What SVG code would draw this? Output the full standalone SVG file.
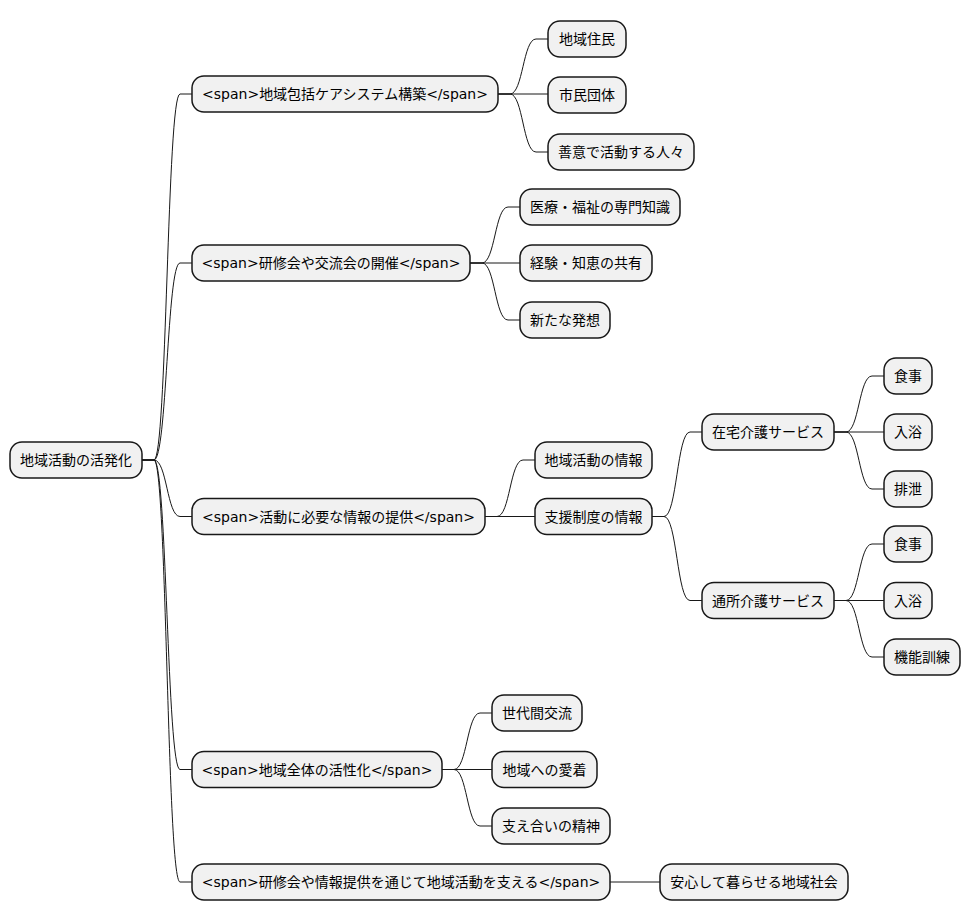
<svg xmlns="http://www.w3.org/2000/svg" width="971" height="921" viewBox="0 0 971 921">
<style>
.n rect{fill:#F1F1F1;stroke:#181818;stroke-width:1.5}
.n text{font-family:"DejaVu Sans","Noto Sans CJK JP",sans-serif;font-size:14px;fill:#000;text-anchor:middle}
#links path{fill:none;stroke:#181818;stroke-width:1}
</style>
<rect width="971" height="921" fill="#FFFFFF"/>
<g id="links">
<path d="M142,460 H154 C167,460 167,94 180,94 H192"/>
<path d="M142,460 H154 C167,460 167,263 180,263 H192"/>
<path d="M142,460 H154 C167,460 167,516.5 180,516.5 H192"/>
<path d="M142,460 H154 C167,460 167,769.5 180,769.5 H192"/>
<path d="M142,460 H154 C167,460 167,882 180,882 H192"/>
<path d="M498,94 H510 C523,94 523,39 536,39 H548"/>
<path d="M498,94 H548"/>
<path d="M498,94 H510 C523,94 523,152 536,152 H548"/>
<path d="M470,263 H482 C495,263 495,207 508,207 H520"/>
<path d="M470,263 H520"/>
<path d="M470,263 H482 C495,263 495,320 508,320 H520"/>
<path d="M485,516.5 H497 C510,516.5 510,460 523,460 H535"/>
<path d="M485,516.5 H535"/>
<path d="M652,516.5 H664 C677,516.5 677,432 690,432 H702"/>
<path d="M652,516.5 H664 C677,516.5 677,600.5 690,600.5 H702"/>
<path d="M834,432 H846 C859,432 859,376 872,376 H884"/>
<path d="M834,432 H884"/>
<path d="M834,432 H846 C859,432 859,489 872,489 H884"/>
<path d="M834,600.5 H846 C859,600.5 859,544 872,544 H884"/>
<path d="M834,600.5 H884"/>
<path d="M834,600.5 H846 C859,600.5 859,657 872,657 H884"/>
<path d="M442,769.5 H454 C467,769.5 467,713 480,713 H492"/>
<path d="M442,769.5 H492"/>
<path d="M442,769.5 H454 C467,769.5 467,826 480,826 H492"/>
<path d="M610,882 H660"/>
</g>
<g id="root" class="n"><rect x="10" y="442" width="132" height="36" rx="12"/><text x="76" y="465">地域活動の活発化</text></g>
<g id="n1" class="n"><rect x="192" y="76" width="306" height="36" rx="12"/><text x="345" y="99">&lt;span&gt;地域包括ケアシステム構築&lt;/span&gt;</text></g>
<g id="n1a" class="n"><rect x="548" y="21" width="78" height="36" rx="12"/><text x="587" y="44">地域住民</text></g>
<g id="n1b" class="n"><rect x="548" y="77" width="78" height="36" rx="12"/><text x="587" y="100">市民団体</text></g>
<g id="n1c" class="n"><rect x="548" y="134" width="146" height="36" rx="12"/><text x="621" y="157">善意で活動する人々</text></g>
<g id="n2" class="n"><rect x="192" y="245" width="278" height="36" rx="12"/><text x="331" y="268">&lt;span&gt;研修会や交流会の開催&lt;/span&gt;</text></g>
<g id="n2a" class="n"><rect x="520" y="189" width="160" height="36" rx="12"/><text x="600" y="212">医療・福祉の専門知識</text></g>
<g id="n2b" class="n"><rect x="520" y="245" width="132" height="36" rx="12"/><text x="586" y="268">経験・知恵の共有</text></g>
<g id="n2c" class="n"><rect x="520" y="302" width="90" height="36" rx="12"/><text x="565" y="325">新たな発想</text></g>
<g id="n3" class="n"><rect x="192" y="498.5" width="293" height="36" rx="12"/><text x="338.5" y="521.5">&lt;span&gt;活動に必要な情報の提供&lt;/span&gt;</text></g>
<g id="n3a" class="n"><rect x="535" y="442" width="117" height="36" rx="12"/><text x="593.5" y="465">地域活動の情報</text></g>
<g id="n3b" class="n"><rect x="535" y="498.5" width="117" height="36" rx="12"/><text x="593.5" y="521.5">支援制度の情報</text></g>
<g id="n3b1" class="n"><rect x="702" y="414" width="132" height="36" rx="12"/><text x="768" y="437">在宅介護サービス</text></g>
<g id="n3b1a" class="n"><rect x="884" y="358" width="48" height="36" rx="12"/><text x="908" y="381">食事</text></g>
<g id="n3b1b" class="n"><rect x="884" y="414" width="48" height="36" rx="12"/><text x="908" y="437">入浴</text></g>
<g id="n3b1c" class="n"><rect x="884" y="471" width="48" height="36" rx="12"/><text x="908" y="494">排泄</text></g>
<g id="n3b2" class="n"><rect x="702" y="582.5" width="132" height="36" rx="12"/><text x="768" y="605.5">通所介護サービス</text></g>
<g id="n3b2a" class="n"><rect x="884" y="526" width="48" height="36" rx="12"/><text x="908" y="549">食事</text></g>
<g id="n3b2b" class="n"><rect x="884" y="582.5" width="48" height="36" rx="12"/><text x="908" y="605.5">入浴</text></g>
<g id="n3b2c" class="n"><rect x="884" y="639" width="76" height="36" rx="12"/><text x="922" y="662">機能訓練</text></g>
<g id="n4" class="n"><rect x="192" y="751.5" width="250" height="36" rx="12"/><text x="317" y="774.5">&lt;span&gt;地域全体の活性化&lt;/span&gt;</text></g>
<g id="n4a" class="n"><rect x="492" y="695" width="90" height="36" rx="12"/><text x="537" y="718">世代間交流</text></g>
<g id="n4b" class="n"><rect x="492" y="751.5" width="105" height="36" rx="12"/><text x="544.5" y="774.5">地域への愛着</text></g>
<g id="n4c" class="n"><rect x="492" y="808" width="118" height="36" rx="12"/><text x="551" y="831">支え合いの精神</text></g>
<g id="n5" class="n"><rect x="192" y="864" width="418" height="36" rx="12"/><text x="401" y="887">&lt;span&gt;研修会や情報提供を通じて地域活動を支える&lt;/span&gt;</text></g>
<g id="n5a" class="n"><rect x="660" y="864" width="188" height="36" rx="12"/><text x="754" y="887">安心して暮らせる地域社会</text></g>
</svg>
